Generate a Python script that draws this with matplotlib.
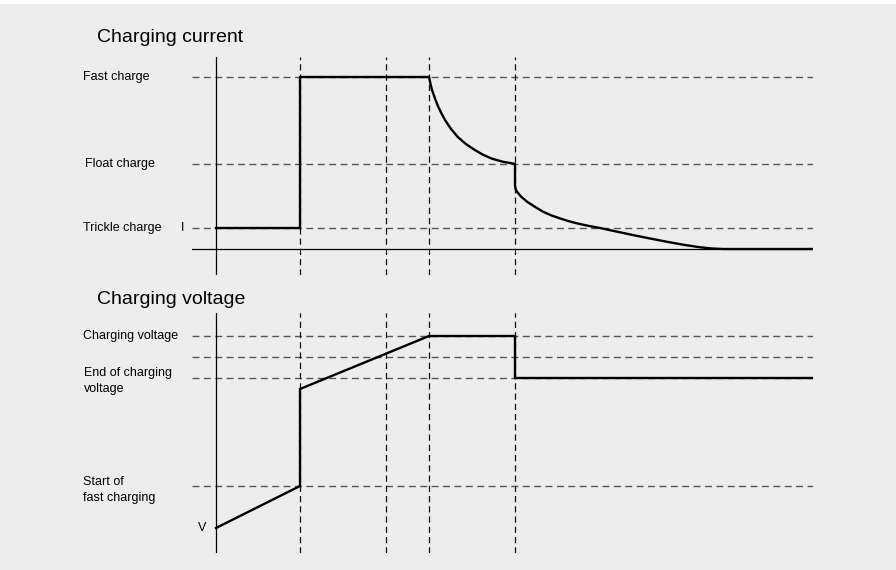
import numpy as np
import matplotlib
matplotlib.use("Agg")
import matplotlib.pyplot as plt
from matplotlib.patches import Rectangle

plt.rcParams['font.family'] = ['Liberation Sans', 'DejaVu Sans']

# time axis (arbitrary units), phase boundaries
t_start = 0.0
t_phase = [8.4, 17.0, 21.3, 29.9]
t_end = 59.7
t_left = -2.4

# current levels
i_trickle = 1.22
i_float = 4.95
i_fast = 10.0

# charging current
cur_t = [0.0, 8.4, 8.4, 21.3,
         21.45, 21.6, 21.9, 22.2, 22.55, 22.9, 23.5, 24.2, 25.0, 25.9, 26.7,
         27.6, 28.7, 29.9,
         29.9, 29.95, 30.1, 30.5, 31.1, 31.9, 32.7, 33.5, 34.4, 35.2, 36.1,
         37.2, 38.4, 40.0, 41.7, 43.4, 45.1, 46.7, 48.4, 49.6, 50.7, 59.7]
cur_i = [1.22, 1.22, 10.0, 10.0,
         9.6, 9.25, 8.75, 8.3, 7.88, 7.5, 6.98, 6.5, 6.1, 5.75, 5.48,
         5.25, 5.07, 4.95,
         3.72, 3.5, 3.33, 3.05, 2.75, 2.45, 2.17, 1.96, 1.78, 1.63, 1.49,
         1.35, 1.22, 1.02, 0.81, 0.61, 0.42, 0.25, 0.1, 0.03, 0.0, 0.0]

# voltage levels
v_start_fast = 6.7
v_end_charge = 17.5
v_mid = 19.6
v_charge = 21.7

volt_t = [0.0, 8.4, 8.4, 21.3, 29.9, 29.9, 59.7]
volt_v = [2.5, 6.7, 16.4, 21.7, 21.7, 17.5, 17.5]

W, H = 896, 570
fig = plt.figure(figsize=(W / 100, H / 100), dpi=100)
fig.patch.set_facecolor('#ededed')
fig.patches.append(Rectangle((0, 1 - 4 / H), 1, 4 / H, transform=fig.transFigure,
                             facecolor='white', edgecolor='none'))

left = 192 / W
width = (813 - 192) / W
ax1 = fig.add_axes([left, 1 - 275 / H, width, (275 - 57) / H])
ax2 = fig.add_axes([left, 1 - 553 / H, width, (553 - 313) / H])

hdash = dict(color='#555555', lw=1.0, dashes=(5, 3.2))
vdash = dict(color='#111111', lw=0.9, dashes=(5, 3.2))

# ---- top: current
ax1.set_xlim(t_left, t_end)
ax1.set_ylim(-1.512, 11.163)
for lvl in [i_fast, i_float, i_trickle]:
    ax1.axhline(lvl, **hdash)
for tp in t_phase:
    ax1.axvline(tp, **vdash)
ax1.axhline(0, color='black', lw=0.9)
ax1.axvline(t_start, color='black', lw=0.9)
ax1.plot(cur_t, cur_i, color='black', lw=1.7, solid_joinstyle='round')

lab = dict(fontsize=9, va='center', ha='left', clip_on=False)
ax1.text(-13.3, i_fast, 'Fast charge', **lab)
ax1.text(-13.1, i_float, 'Float charge', **lab)
ax1.text(-13.3, i_trickle, 'Trickle charge', **lab)
ax1.text(-3.3, i_trickle, 'I', fontsize=9, va='center', ha='center', clip_on=False)

# ---- bottom: voltage
ax2.set_xlim(t_left, t_end)
ax2.set_ylim(0, 24)
for lvl in [v_charge, v_mid, v_end_charge, v_start_fast]:
    ax2.axhline(lvl, **hdash)
for tp in t_phase:
    ax2.axvline(tp, **vdash)
ax2.axvline(t_start, color='black', lw=0.9)
ax2.plot(volt_t, volt_v, color='black', lw=1.7, solid_joinstyle='miter')

ax2.text(-13.3, v_charge, 'Charging voltage', **lab)
ax2.text(-13.2, v_end_charge + 1.1, 'End of charging\nvoltage', fontsize=9,
         va='top', ha='left', linespacing=1.45, clip_on=False)
ax2.text(-13.3, v_start_fast + 1.0, 'Start of\nfast charging', fontsize=9,
         va='top', ha='left', linespacing=1.45, clip_on=False)
ax2.text(-1.4, 2.5, 'V', fontsize=9, va='center', ha='center', clip_on=False)

for ax in (ax1, ax2):
    ax.set_axis_off()

fig.text(97 / W, 1 - 38 / H, 'Charging current', fontsize=14, va='center', ha='left')
fig.text(97 / W, 1 - 299 / H, 'Charging voltage', fontsize=14, va='center', ha='left')

fig.savefig('out.png', dpi=100, facecolor=fig.get_facecolor())
